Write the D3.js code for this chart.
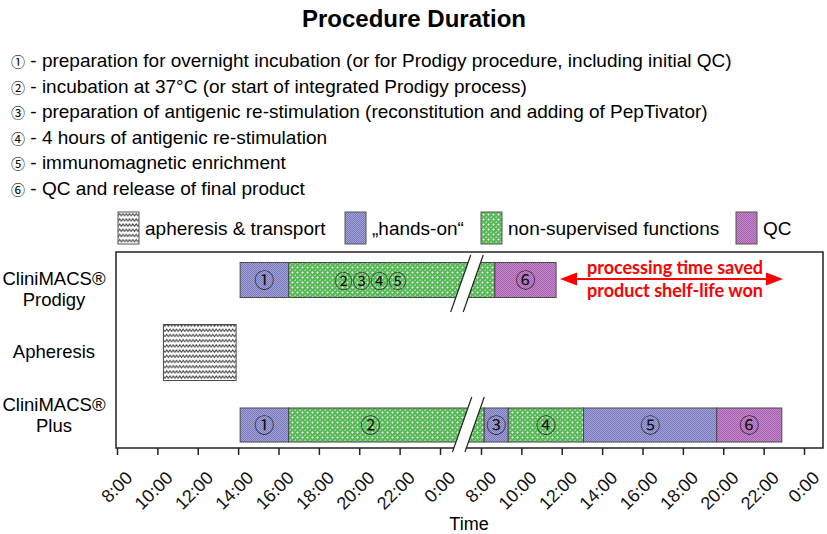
<!DOCTYPE html>
<html>
<head>
<meta charset="utf-8">
<script src="https://cdn.jsdelivr.net/npm/d3@7"></script>
<style>
  body { margin: 0; background: #fff; }
  svg { display: block; font-family: "Liberation Sans", Arial, sans-serif; }
</style>
</head>
<body>
<div id="chart-container"></div>
<script>
// --- data (times are hours from 0:00 of day 1) ---
const rows = ["Prodigy", "Apheresis", "Plus"];
const rowLabels = [["CliniMACS®", "Prodigy"], ["Apheresis"], ["CliniMACS®", "Plus"]];

const prodigyStart = [14.1, 16.5, 32.69];
const prodigyEnd   = [16.5, 32.69, 35.72];
const prodigyType  = ["hands", "nonsup", "qc"];
const prodigyText  = ["①", "②③④⑤", "⑥"];

const apheresisStart = [10.3];
const apheresisEnd   = [13.9];
const apheresisType  = ["apheresis"];
const apheresisText  = [""];

const plusStart = [14.1, 16.5, 32.16, 33.35, 37.08, 43.68];
const plusEnd   = [16.5, 32.16, 33.35, 37.08, 43.68, 46.9];
const plusType  = ["hands", "nonsup", "hands", "nonsup", "hands", "qc"];
const plusText  = ["①", "②", "③", "④", "⑤", "⑥"];

const tickTimes = [8, 10, 12, 14, 16, 18, 20, 22, 24, 32, 34, 36, 38, 40, 42, 44, 46, 48];
const breakTime = 29.5;

const legendKeys   = ["apheresis", "hands", "nonsup", "qc"];
const legendLabels = ["apheresis & transport", "„hands-on“", "non-supervised  functions", "QC"];

const stepNotes = [
  "preparation for overnight incubation (or for Prodigy procedure, including initial QC)",
  "incubation at 37°C (or start of integrated Prodigy process)",
  "preparation of antigenic re-stimulation (reconstitution and adding of PepTivator)",
  "4 hours of antigenic re-stimulation",
  "immunomagnetic enrichment",
  "QC and release of final product"
];
const stepMarks = ["①", "②", "③", "④", "⑤", "⑥"];

const segments = [];
const addRow = (row, s, e, t, txt) => s.forEach((v, i) =>
  segments.push({ row, start: v, end: e[i], type: t[i], text: txt[i] }));
addRow("Prodigy", prodigyStart, prodigyEnd, prodigyType, prodigyText);
addRow("Apheresis", apheresisStart, apheresisEnd, apheresisType, apheresisText);
addRow("Plus", plusStart, plusEnd, plusType, plusText);

// --- layout ---
const W = 827, H = 534;
const plot = { left: 116, right: 823, top: 252, bottom: 448 };
const circFont = "'Noto Sans CJK JP', 'DejaVu Sans', sans-serif";

const svg = d3.select("#chart-container").append("svg")
  .attr("width", W).attr("height", H);

// broken time axis: 0:00 -> 8:00 of day 2 squeezed into one tick step
const x = d3.scaleLinear()
  .domain([8, 24, 32, 48])
  .range([117, 440, 481, 804]);

const yBar = d3.scalePoint().domain(rows).range([280, 425]);
const yLab = d3.scalePoint().domain(rows).range([289, 415]);
const barH = { Prodigy: 35, Apheresis: 56, Plus: 34 };

// --- patterns ---
const defs = svg.append("defs");

const dotted = (id, base, dot, size) => {
  const p = defs.append("pattern").attr("id", id)
    .attr("width", size).attr("height", size).attr("patternUnits", "userSpaceOnUse");
  p.append("rect").attr("width", size).attr("height", size).attr("fill", base);
  p.append("rect").attr("width", 1).attr("height", 1).attr("fill", dot);
  p.append("rect").attr("x", size / 2).attr("y", size / 2).attr("width", 1).attr("height", 1).attr("fill", dot);
};
dotted("pat-hands", "#a2a2db", "#7a7aba", 2);
dotted("pat-qc", "#c887cf", "#a062a8", 2);

// green with white crosses
const g = defs.append("pattern").attr("id", "pat-nonsup")
  .attr("width", 5).attr("height", 5).attr("patternUnits", "userSpaceOnUse");
g.append("rect").attr("width", 5).attr("height", 5).attr("fill", "#58b858");
g.append("path").attr("d", "M1.5,2.5h2M2.5,1.5v2").attr("stroke", "#f2fcf2").attr("stroke-width", 1);
g.append("path").attr("d", "M0,0h1M4,0h1M0,4v1").attr("stroke", "#d8f2d8").attr("stroke-width", 1);

// zigzag
const z = defs.append("pattern").attr("id", "pat-apheresis")
  .attr("width", 6.6).attr("height", 5.2).attr("patternUnits", "userSpaceOnUse");
z.append("rect").attr("width", 6.6).attr("height", 5.2).attr("fill", "#fff");
z.append("path").attr("d", "M0,4L1.65,1.4L3.3,4L4.95,1.4L6.6,4")
  .attr("fill", "none").attr("stroke", "#333").attr("stroke-width", 0.9);

const fillOf = t => `url(#pat-${t})`;

// --- title and notes ---
svg.append("text").attr("x", 414).attr("y", 27)
  .attr("text-anchor", "middle").style("font-weight", "bold").style("font-size", "24px")
  .text("Procedure Duration");

const notes = svg.append("g").selectAll("text").data(stepNotes).join("text")
  .attr("x", 11).attr("y", (d, i) => 67 + i * 25.5)
  .style("font-size", "19px");
notes.append("tspan").style("font-family", circFont).style("font-size", "14px")
  .text((d, i) => stepMarks[i]);
notes.append("tspan").text(d => " - " + d);

// --- legend ---
const legendX = [118, 345, 481, 736];
const legend = svg.append("g").selectAll("g").data(legendKeys).join("g")
  .attr("transform", (d, i) => `translate(${legendX[i]},212)`);
legend.append("rect").attr("width", 21).attr("height", 32)
  .attr("fill", d => fillOf(d)).attr("stroke", "#555").attr("stroke-width", 1);
legend.append("text").attr("x", 27).attr("y", 23).style("font-size", "19px")
  .text((d, i) => legendLabels[i]);

// --- frame ---
svg.append("rect")
  .attr("x", plot.left).attr("y", plot.top)
  .attr("width", plot.right - plot.left).attr("height", plot.bottom - plot.top)
  .attr("fill", "none").attr("stroke", "#222").attr("stroke-width", 1.5);

// --- axis ---
const axis = svg.append("g").attr("transform", `translate(0,${plot.bottom})`)
  .call(d3.axisBottom(x).tickValues(tickTimes).tickSize(7).tickSizeOuter(0)
    .tickFormat(d => (d % 24) + ":00"));
axis.select(".domain").remove();
axis.selectAll(".tick line").attr("stroke", "#222").attr("stroke-width", 1.5);
axis.selectAll(".tick text")
  .attr("text-anchor", "end")
  .attr("dy", 0).attr("y", 0)
  .attr("transform", "translate(16,31) rotate(-45)")
  .style("font-family", "'Liberation Sans', Arial, sans-serif")
  .style("font-size", "18px").attr("fill", "#111");

svg.append("text").attr("x", 469).attr("y", 530).attr("text-anchor", "middle")
  .style("font-size", "18px").text("Time");

// --- row labels ---
svg.append("g").selectAll("text").data(rows).join("text")
  .attr("x", 54).attr("text-anchor", "middle").style("font-size", "18.5px")
  .attr("y", (d, i) => yLab(d) - (rowLabels[i].length - 1) * 10.5)
  .each(function (d, i) {
    d3.select(this).selectAll("tspan").data(rowLabels[i]).join("tspan")
      .attr("x", 54).attr("dy", (t, k) => k === 0 ? 6 : 21).text(t => t);
  });

// --- bars ---
const bars = svg.append("g");
bars.selectAll("rect").data(segments).join("rect")
  .attr("x", d => x(d.start))
  .attr("y", d => yBar(d.row) - barH[d.row] / 2)
  .attr("width", d => x(d.end) - x(d.start))
  .attr("height", d => barH[d.row])
  .attr("fill", d => fillOf(d.type))
  .attr("stroke", "#4a4a4a").attr("stroke-width", 1);

// --- axis breaks (white slanted gap across bar and axis) ---
const bx = x(breakTime);
const breakRows = [
  { row: "Prodigy", up: 25, down: 32 },
  { row: "Plus", up: 28, down: 27 }
];
const slope = 20 / 57, gapW = 12.5;
breakRows.forEach(b => {
  const yc = yBar(b.row), y0 = yc - b.up, y1 = yc + b.down;
  const xt = bx + (yc - y0) * slope, xb = bx - (y1 - yc) * slope;
  svg.append("path")
    .attr("d", `M${xt - gapW / 2},${y0}L${xt + gapW / 2},${y0}L${xb + gapW / 2},${y1}L${xb - gapW / 2},${y1}Z`)
    .attr("fill", "#fff");
  [-gapW / 2, gapW / 2].forEach(o => svg.append("line")
    .attr("x1", xt + o).attr("y1", y0).attr("x2", xb + o).attr("y2", y1)
    .attr("stroke", "#222").attr("stroke-width", 1.2));
});

// --- segment labels ---
svg.append("g").selectAll("text").data(segments.filter(d => d.text)).join("text")
  .attr("x", d => {
    const e = (d.start < breakTime && d.end > breakTime) ? x(breakTime) - 16 : x(d.end);
    return (x(d.start) + e) / 2;
  })
  .attr("y", d => yBar(d.row) + 7.5)
  .attr("text-anchor", "middle")
  .style("font-family", circFont).style("font-size", d => d.text.length > 1 ? "18px" : "20px")
  .attr("fill", "#111")
  .text(d => d.text);

// --- annotation ---
const ann = svg.append("g");
const ay = 279, ax0 = 560, ax1 = 783;
ann.append("line").attr("x1", ax0 + 12).attr("x2", ax1 - 12).attr("y1", ay).attr("y2", ay)
  .attr("stroke", "red").attr("stroke-width", 2);
ann.append("path").attr("d", `M${ax0},${ay}L${ax0 + 17},${ay - 6.5}L${ax0 + 17},${ay + 6.5}Z`).attr("fill", "red");
ann.append("path").attr("d", `M${ax1},${ay}L${ax1 - 17},${ay - 6.5}L${ax1 - 17},${ay + 6.5}Z`).attr("fill", "red");
ann.selectAll("text").data(["processing time saved", "product shelf-life won"]).join("text")
  .attr("x", 675).attr("y", (d, i) => 274 + i * 23)
  .attr("text-anchor", "middle")
  .style("font-family", "Lato, sans-serif").style("font-weight", "bold").style("font-size", "18px")
  .attr("fill", "red").text(d => d);
</script>
</body>
</html>
